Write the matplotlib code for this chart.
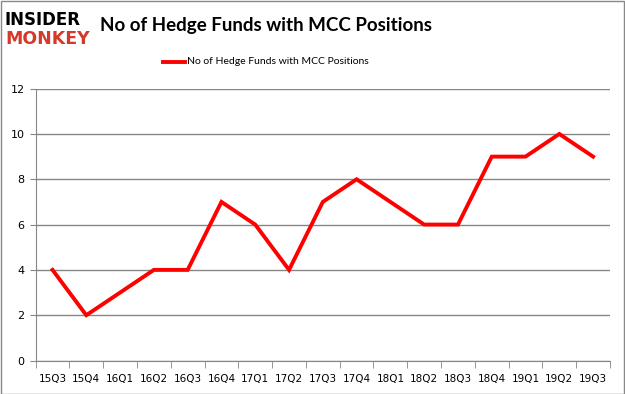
import matplotlib.pyplot as plt
import numpy as np

quarters = ["15Q3", "15Q4", "16Q1", "16Q2", "16Q3", "16Q4", "17Q1", "17Q2", "17Q3",
            "17Q4", "18Q1", "18Q2", "18Q3", "18Q4", "19Q1", "19Q2", "19Q3"]
funds = [4, 2, 3, 4, 4, 7, 6, 4, 7, 8, 7, 6, 6, 9, 9, 10, 9]
yticks = [0, 2, 4, 6, 8, 10, 12]

grid_color = '#868686'

fig = plt.figure(figsize=[6.25, 3.94], dpi=100)
ax = fig.add_axes([0.057, 0.085, 0.919, 0.69])

x = np.arange(len(quarters))
ax.plot(x, funds, color='#ff0000', linewidth=2.8, solid_joinstyle='miter')

ax.set_xlim(-0.5, len(quarters) - 0.5)
ax.set_ylim(0, 12)
ax.set_yticks(yticks)
ax.set_yticklabels([str(v) for v in yticks])
ax.yaxis.grid(True, color=grid_color, linewidth=1)
ax.set_axisbelow(True)

# category labels centred, tick marks on the boundaries
ax.set_xticks(x)
ax.set_xticklabels(quarters)
ax.set_xticks(np.arange(len(quarters) + 1) - 0.5, minor=True)
ax.tick_params(axis='x', which='major', length=0, pad=10, labelsize=7.5)
ax.tick_params(axis='x', which='minor', length=5, color=grid_color, direction='out')
ax.tick_params(axis='y', length=4, color=grid_color, labelsize=8, pad=4)

for s in ['top', 'right']:
    ax.spines[s].set_visible(False)
for s in ['left', 'bottom']:
    ax.spines[s].set_color(grid_color)

# logo
fig.text(0.008, 0.95, "INSIDER", fontsize=12, fontweight='bold', color='black',
         va='center', ha='left', family='DejaVu Sans')
fig.text(0.008, 0.9, "MONKEY", fontsize=12.5, fontweight='bold', color='#d33a2c',
         va='center', ha='left', family='DejaVu Sans')
fig.text(0.16, 0.935, "No of Hedge Funds with MCC Positions", fontsize=13.5,
         fontweight='bold', va='center', ha='left', family='Lato')

# legend
fig.lines.append(plt.Line2D([0.26, 0.296], [0.843, 0.843], transform=fig.transFigure,
                            color='#ff0000', linewidth=2.8))
fig.text(0.299, 0.843, "No of Hedge Funds with MCC Positions", fontsize=7.5,
         va='center', ha='left', family='Lato')

# outer border
fig.patches.append(plt.Rectangle((0.001, 0.001), 0.997, 0.997, transform=fig.transFigure,
                                 fill=False, edgecolor='#888888', linewidth=1))

plt.savefig("out.png", dpi=100)
